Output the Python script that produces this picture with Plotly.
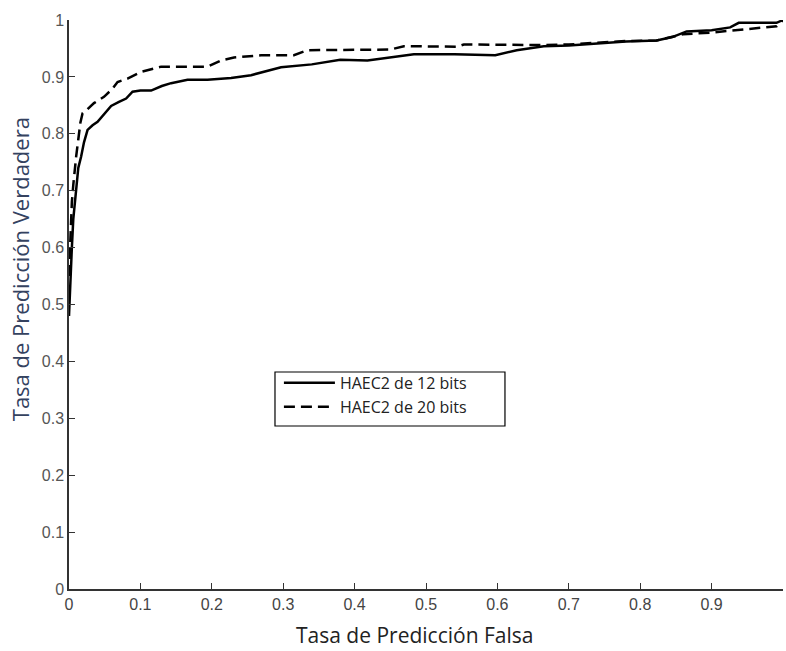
import plotly.graph_objects as go

# 12-bit curve (solid)
fpr_12 = [0, 0.002, 0.004, 0.006, 0.008, 0.010, 0.013, 0.017, 0.021, 0.026, 0.033, 0.040,
          0.050, 0.059, 0.070, 0.080, 0.089, 0.100, 0.115, 0.130, 0.143, 0.166, 0.194, 0.227,
          0.255, 0.269, 0.297, 0.340, 0.380, 0.418, 0.450, 0.483, 0.540, 0.597, 0.627, 0.665,
          0.700, 0.739, 0.780, 0.823, 0.845, 0.865, 0.900, 0.926, 0.938, 0.991, 1.0]
tpr_12 = [0.48, 0.55, 0.60, 0.65, 0.68, 0.71, 0.74, 0.76, 0.785, 0.807, 0.815, 0.821,
          0.835, 0.849, 0.856, 0.862, 0.874, 0.876, 0.876, 0.884, 0.889, 0.895, 0.895, 0.898,
          0.903, 0.908, 0.917, 0.922, 0.930, 0.929, 0.934, 0.940, 0.940, 0.938, 0.947, 0.954,
          0.955, 0.959, 0.962, 0.964, 0.970, 0.980, 0.982, 0.987, 0.995, 0.995, 1.0]

# 20-bit curve (dashed)
fpr_20 = [0, 0.002, 0.004, 0.006, 0.008, 0.010, 0.013, 0.016, 0.019, 0.025, 0.035, 0.049,
          0.060, 0.068, 0.082, 0.101, 0.129, 0.160, 0.194, 0.213, 0.231, 0.269, 0.315, 0.334,
          0.450, 0.469, 0.544, 0.553, 0.660, 0.700, 0.740, 0.780, 0.823, 0.860, 0.900, 0.935,
          0.960, 0.991, 0.996, 1.0]
tpr_20 = [0.55, 0.62, 0.68, 0.71, 0.74, 0.76, 0.79, 0.82, 0.836, 0.842, 0.854, 0.865,
          0.878, 0.891, 0.897, 0.909, 0.918, 0.918, 0.918, 0.929, 0.934, 0.938, 0.938, 0.947,
          0.948, 0.954, 0.953, 0.957, 0.956, 0.957, 0.960, 0.963, 0.964, 0.975, 0.978, 0.982,
          0.985, 0.989, 0.995, 1.0]

tick_vals = [0, 0.1, 0.2, 0.3, 0.4, 0.5, 0.6, 0.7, 0.8, 0.9, 1]
tick_text = ["0", "0.1", "0.2", "0.3", "0.4", "0.5", "0.6", "0.7", "0.8", "0.9", "1"]

x_title = "Tasa de Predicción Falsa"
y_title = "Tasa de Predicción Verdadera"

fig = go.Figure()
fig.add_trace(go.Scatter(x=fpr_12, y=tpr_12, mode="lines", name="HAEC2 de 12 bits",
                         line=dict(color="black", width=2.5)))
fig.add_trace(go.Scatter(x=fpr_20, y=tpr_20, mode="lines", name="HAEC2 de 20 bits",
                         line=dict(color="black", width=2.5, dash="11px,6px")))

# legend frame
fig.add_shape(type="rect", xref="paper", yref="paper",
              x0=0.2885, x1=0.6106, y0=0.2865, y1=0.3814,
              line=dict(color="black", width=1.2), fillcolor="rgba(0,0,0,0)", layer="below")

fig.add_annotation(text=x_title, xref="paper", yref="paper", x=0.484, y=-0.0808,
                   xanchor="center", yanchor="middle", showarrow=False,
                   font=dict(family="Open Sans", size=21, color="#222"))
fig.add_annotation(text=y_title, xref="paper", yref="paper", x=-0.0686, y=0.562,
                   xanchor="center", yanchor="middle", textangle=-90, showarrow=False,
                   font=dict(family="Open Sans", size=22, color="#34425f"))

fig.update_layout(
    width=786, height=651,
    margin=dict(l=69, r=3, t=20, b=62),
    paper_bgcolor="white", plot_bgcolor="white",
    showlegend=True,
    legend=dict(x=0.294, y=0.392, xanchor="left", yanchor="top",
                borderwidth=0, bgcolor="rgba(0,0,0,0)", itemwidth=51,
                font=dict(family="Open Sans", size=16, color="#222"),
                tracegroupgap=0),
    xaxis=dict(range=[0, 1], tickvals=tick_vals, ticktext=tick_text,
               ticks="inside", ticklen=6, tickcolor="#333", showgrid=False, zeroline=False,
               showline=True, linecolor="#333", linewidth=1.5,
               tickfont=dict(family="Arial, Liberation Sans, sans-serif", size=16, color="#444")),
    yaxis=dict(range=[0, 1], tickvals=tick_vals, ticktext=tick_text,
               ticks="inside", ticklen=6, tickcolor="#333", showgrid=False, zeroline=False,
               showline=True, linecolor="#333", linewidth=1.5,
               tickfont=dict(family="Arial, Liberation Sans, sans-serif", size=16, color="#555")),
)

fig.write_html("out.html")
